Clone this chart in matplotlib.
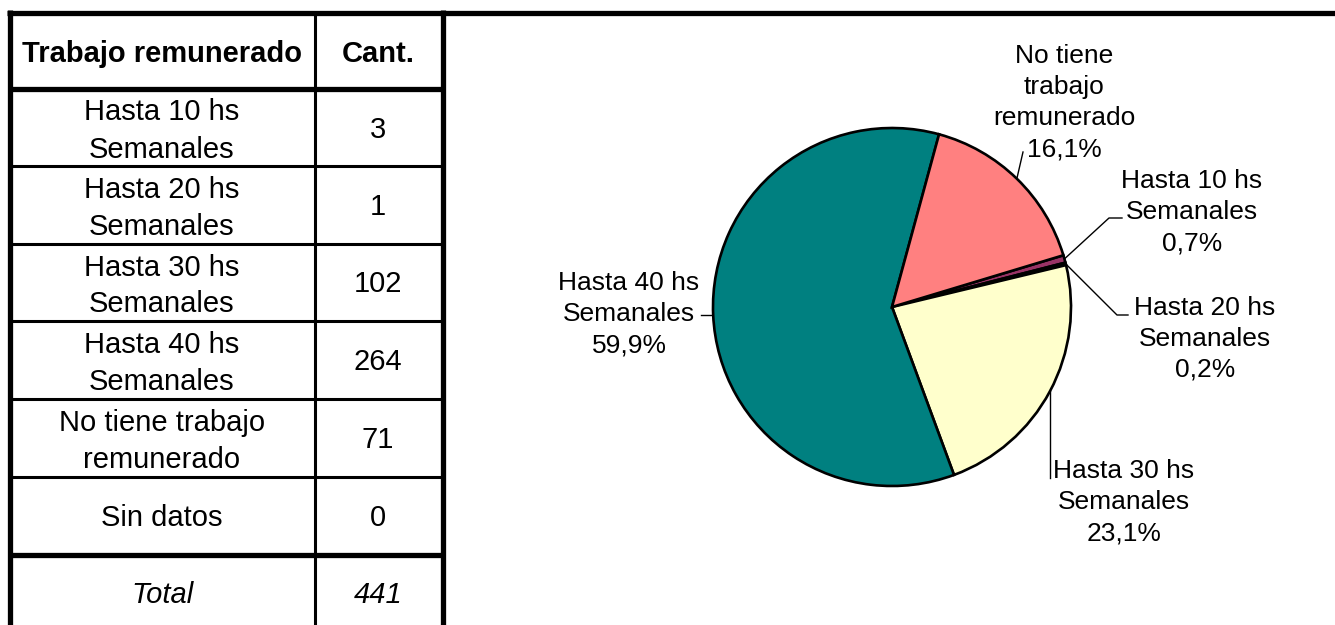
import numpy as np
import matplotlib
matplotlib.use("Agg")
import matplotlib.pyplot as plt

plt.rcParams['font.family'] = ['Liberation Sans', 'DejaVu Sans']
f_size = 21      # table text
f_pie = 19       # pie labels

# --------------------- data ---------------------
row_labels = ["Hasta 10 hs\nSemanales", "Hasta 20 hs\nSemanales",
              "Hasta 30 hs\nSemanales", "Hasta 40 hs\nSemanales",
              "No tiene trabajo\nremunerado", "Sin datos"]
counts = [3, 1, 102, 264, 71, 0]
total = sum(counts)

pie_labels = ["Hasta 10 hs\nSemanales", "Hasta 20 hs\nSemanales",
              "Hasta 30 hs\nSemanales", "Hasta 40 hs\nSemanales",
              "No tiene\ntrabajo\nremunerado", "Sin datos"]
pie_colors = ['#993366', '#660066', '#FFFFCC', '#008080', '#FF8080', '#CCFFFF']


def draw_lines(ax, x, y0, text, dy, size, **kw):
    # one text per line, baselines dy pixels apart
    for i, line in enumerate(text.split("\n")):
        ax.text(x, y0 + i * dy, line, ha='center', va='baseline',
                fontsize=size, **kw)


# --------------------- figure ---------------------
fig = plt.figure(figsize=(13.35, 6.25), dpi=100)
ax = fig.add_axes([0, 0, 1, 1])
ax.set_xlim(0, 1335)
ax.set_ylim(625, 0)
ax.axis('off')

# table grid
thick = 3.8
thin = 2.2
ax.plot([7, 1335], [12.5, 12.5], color='k', lw=thick, solid_capstyle='butt')
ax.plot([9.5, 9.5], [10, 625], color='k', lw=thick, solid_capstyle='butt')
ax.plot([442.5, 442.5], [10, 625], color='k', lw=thick, solid_capstyle='butt')
ax.plot([315, 315], [14, 625], color='k', lw=thin, solid_capstyle='butt')
row_tops = [88.5, 166, 243.5, 321, 399, 476.5]
ax.plot([9.5, 442.5], [row_tops[0]] * 2, color='k', lw=thick, solid_capstyle='butt')
for yy in row_tops[1:]:
    ax.plot([9.5, 442.5], [yy, yy], color='k', lw=thin, solid_capstyle='butt')
ax.plot([9.5, 442.5], [554.5, 554.5], color='k', lw=thick, solid_capstyle='butt')

# table text
ax.text(162, 62, "Trabajo remunerado", ha='center', va='baseline',
        fontsize=f_size, fontweight='bold')
ax.text(378, 62, "Cant.", ha='center', va='baseline',
        fontsize=f_size, fontweight='bold')
for top, lab, c in zip(row_tops, row_labels, counts):
    n = len(lab.split("\n"))
    y0 = top + 49 if n == 1 else top + 32
    draw_lines(ax, 162, y0, lab, 37, f_size)
    ax.text(378, top + 49, str(c), ha='center', va='baseline', fontsize=f_size)
ax.text(162, 603, "Total", ha='center', va='baseline', fontsize=f_size, style='italic')
ax.text(378, 603, str(total), ha='center', va='baseline', fontsize=f_size, style='italic')

# --------------------- pie ---------------------
cx, cy, r = 892, 307, 179
pax = fig.add_axes([(cx - r) / 1335, (625 - cy - r) / 625, 2 * r / 1335, 2 * r / 625])
keep = [i for i, c in enumerate(counts) if c > 0]
wedges, _ = pax.pie([counts[i] for i in keep], colors=[pie_colors[i] for i in keep],
                    startangle=16.8, counterclock=False, radius=1,
                    wedgeprops=dict(edgecolor='k', linewidth=1.9))
pax.set_xlim(-1, 1)
pax.set_ylim(-1, 1)
pax.set_aspect('equal')

# label positions (center x, first baseline y) and leader elbow points, pixels
label_pos = {0: (1192, 188), 1: (1205, 315), 2: (1124, 478), 3: (629, 290), 4: (1064, 63)}
leader_pts = {0: [(1109, 218), (1122, 218)],
              1: [(1117, 315), (1128, 315)],
              2: [None],
              3: [(701, None)],
              4: [(1023, 152)]}

to_px = ax.transData.inverted()
for w, i in zip(wedges, keep):
    th = np.deg2rad((w.theta1 + w.theta2) / 2)
    ex, ey = to_px.transform(pax.transData.transform((np.cos(th), np.sin(th))))
    pct = f"{100 * counts[i] / total:.1f}".replace('.', ',') + "%"
    x, y0 = label_pos[i]
    draw_lines(ax, x, y0, pie_labels[i] + "\n" + pct, 31, f_pie)
    pts = [(ex, ey)]
    for p in leader_pts[i]:
        if p is None:
            pts.append((ex, 478))
        elif p[1] is None:
            pts.append((p[0], ey))
        else:
            pts.append(p)
    xs, ys = zip(*pts)
    ax.plot(xs, ys, color='k', lw=1.0)

fig.savefig("out.png", dpi=100)
